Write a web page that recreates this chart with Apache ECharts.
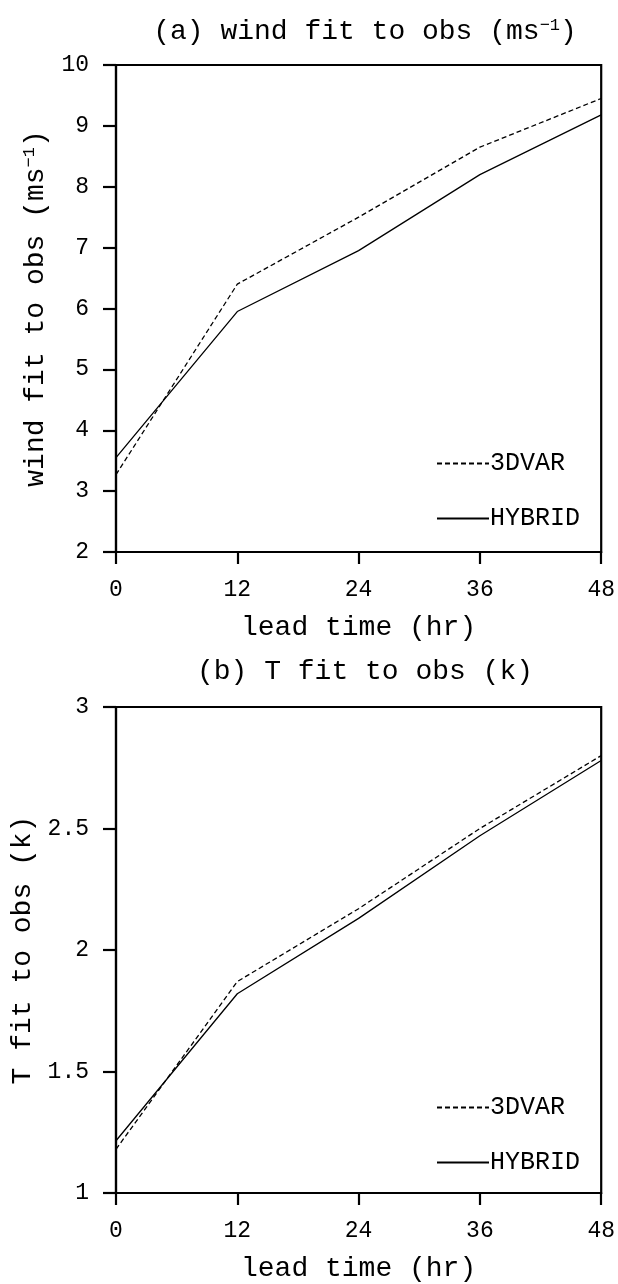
<!DOCTYPE html>
<html>
<head>
<meta charset="utf-8">
<script src="https://cdn.jsdelivr.net/npm/echarts@6/dist/echarts.min.js"></script>
<style>
  html, body { margin: 0; padding: 0; background: #fff; }
  #chart { width: 618px; height: 1284px; }
</style>
</head>
<body>
<div id="chart"></div>
<script>
// lead times (hr) and fits to obs
const leadTimes = [0, 12, 24, 36, 48];
const windVar = [3.27, 6.4, 7.5, 8.65, 9.45];
const windHybrid = [3.55, 5.95, 6.95, 8.2, 9.18];
const tVar = [1.18, 1.87, 2.17, 2.5, 2.8];
const tHybrid = [1.215, 1.82, 2.13, 2.47, 2.78];

const FONT = 'Liberation Mono';

const pairs = (ys) => leadTimes.map((x, i) => [x, ys[i]]);

const xAxisFor = (gridIndex) => ({
    type: 'value',
    gridIndex: gridIndex,
    min: 0,
    max: 48,
    interval: 12,
    name: 'lead time (hr)',
    nameLocation: 'middle',
    nameGap: 62,
    nameTextStyle: { fontFamily: FONT, fontSize: 28, color: '#000' },
    axisLine: { show: true, lineStyle: { color: '#000', width: 2.2 } },
    axisTick: { show: true, length: 12, lineStyle: { color: '#000', width: 2.2 } },
    axisLabel: { margin: 26, fontFamily: FONT, fontSize: 23, color: '#000' },
    splitLine: { show: false }
});

const yAxisFor = (gridIndex, min, max, interval, name) => ({
    type: 'value',
    gridIndex: gridIndex,
    min: min,
    max: max,
    interval: interval,
    name: name,
    nameLocation: 'middle',
    nameGap: 66,
    nameTextStyle: {
        fontFamily: FONT, fontSize: 28, color: '#000',
        rich: { sup: { fontFamily: FONT, fontSize: 17, color: '#000', verticalAlign: 'top', padding: [0, 0, 12, 0] } }
    },
    axisLine: { show: true, lineStyle: { color: '#000', width: 2.2 } },
    axisTick: { show: true, length: 13, lineStyle: { color: '#000', width: 2.2 } },
    axisLabel: { margin: 27, fontFamily: FONT, fontSize: 23, color: '#000' },
    splitLine: { show: false }
});

const lineSeries = (name, gridIndex, ys, dashed) => ({
    name: name,
    type: 'line',
    xAxisIndex: gridIndex,
    yAxisIndex: gridIndex,
    data: pairs(ys),
    symbol: 'none',
    silent: true,
    lineStyle: { color: '#000', width: 1.3, type: dashed ? [5, 3] : 'solid' },
    itemStyle: { color: '#000' }
});

const legendFor = (top) => ({
    orient: 'vertical',
    left: 431,
    top: top,
    itemWidth: 52,
    itemHeight: 14,
    itemGap: 30,
    selectedMode: false,
    itemStyle: { opacity: 0 },
    textStyle: { fontFamily: FONT, fontSize: 25, color: '#000', padding: [0, 0, 0, -4] },
    data: ['3DVAR', 'HYBRID']
});

const titleStyle = {
    rich: {
        t: { fontFamily: FONT, fontSize: 28, fontWeight: 'normal', color: '#000' },
        sup: { fontFamily: FONT, fontSize: 17, fontWeight: 'normal', color: '#000', verticalAlign: 'top', padding: [0, 0, 12, 0] }
    }
};

const chart = echarts.init(document.getElementById('chart'), null, { renderer: 'canvas' });

chart.setOption({
    backgroundColor: '#fff',
    animation: false,
    title: [
        {
            text: '{t|(a) wind fit to obs (ms}{sup|\u22121}{t|)}',
            left: 360,
            textAlign: 'center',
            top: 12,
            textStyle: titleStyle
        },
        {
            text: '{t|(b) T fit to obs (k)}',
            left: 360,
            textAlign: 'center',
            top: 653,
            textStyle: titleStyle
        }
    ],
    legend: [legendFor(446), legendFor(1090)],
    grid: [
        { left: 116, top: 65, width: 488, height: 487, show: true, borderColor: '#000', borderWidth: 2.2 },
        { left: 116, top: 707, width: 488, height: 487, show: true, borderColor: '#000', borderWidth: 2.2 }
    ],
    xAxis: [xAxisFor(0), xAxisFor(1)],
    yAxis: [
        yAxisFor(0, 2, 10, 1, '{a|wind fit to obs (ms}{sup|\u22121}{a|)}'),
        yAxisFor(1, 1, 3, 0.5, 'T fit to obs (k)')
    ],
    series: [
        lineSeries('3DVAR', 0, windVar, true),
        lineSeries('HYBRID', 0, windHybrid, false),
        lineSeries('3DVAR', 1, tVar, true),
        lineSeries('HYBRID', 1, tHybrid, false)
    ]
});
</script>
</body>
</html>
